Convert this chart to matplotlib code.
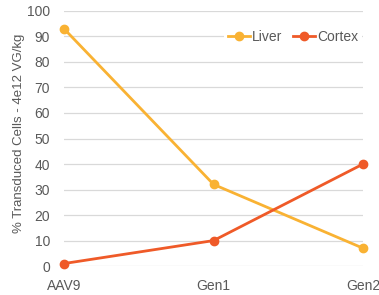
import matplotlib
matplotlib.use("Agg")
import matplotlib.pyplot as plt

categories = ["AAV9", "Gen1", "Gen2"]
liver = [93, 32, 7]
cortex = [1, 10, 40]
yticks = [0, 10, 20, 30, 40, 50, 60, 70, 80, 90, 100]

plt.rcParams['font.family'] = ['Liberation Sans', 'DejaVu Sans']
fig = plt.figure(figsize=(3.79, 2.95), dpi=100)
ax = fig.add_axes([0.169, 0.098, 0.789, 0.865])

x = list(range(len(categories)))
ax.plot(x, liver, color='#F9B233', lw=2.0, marker='o', ms=6, label='Liver', clip_on=False, zorder=3)
ax.plot(x, cortex, color='#EF5A28', lw=2.0, marker='o', ms=6, label='Cortex', clip_on=False, zorder=4)

ax.set_xlim(0, 2)
ax.set_ylim(0, 100)
ax.set_yticks(yticks)
ax.set_xticks(x)
ax.set_xticklabels(categories)
ax.grid(axis='y', color='#D9D9D9', lw=0.9)
ax.set_axisbelow(True)
for s in ax.spines.values():
    s.set_visible(False)
ax.tick_params(axis='both', length=0, colors='#595959', labelsize=10)
ax.tick_params(axis='y', pad=10)
ax.tick_params(axis='x', pad=9)
ax.set_ylabel('% Transduced Cells - 4e12 VG/kg', color='#595959', fontsize=9.5)
ax.yaxis.set_label_coords(-0.13, 0.52)

leg = ax.legend(loc='upper right', bbox_to_anchor=(1.02, 0.97), ncol=2, frameon=True,
                fontsize=10, handlelength=1.6, handletextpad=0.1, columnspacing=0.8,
                borderpad=0.3, edgecolor='none', facecolor='white', framealpha=1)
for t in leg.get_texts():
    t.set_color('#595959')

fig.savefig('out.png', dpi=100)
